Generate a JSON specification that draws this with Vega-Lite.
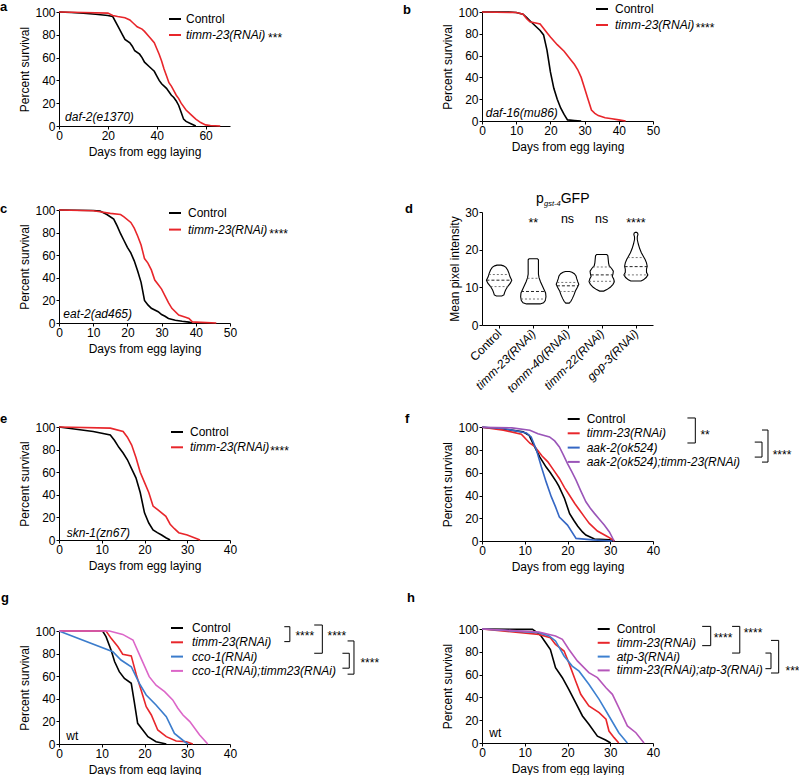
{
"$schema": "https://vega.github.io/schema/vega-lite/v6.json",
"autosize": {"type": "pad"},
"padding": {"left": 0, "top": 1, "right": 0, "bottom": 0},
"background": "white",
"columns": 2,
"spacing": {"row": 10, "column": 252},
"bounds": "flush",
"align": "each",
"resolve": {"scale": {"color": "independent"}, "legend": {"color": "independent"}},
"config": {
 "font": "Liberation Sans",
 "view": {"stroke": null},
 "axis": {"labelFontSize": 12, "titleFontSize": 12, "titleFontWeight": "normal", "labelColor": "#000", "titleColor": "#000", "domainColor": "#000", "tickColor": "#000", "tickSize": 3, "labelPadding": 1, "grid": false, "labelFlush": false, "labelOverlap": false, "domainWidth": 1, "tickWidth": 1},
 "axisX": {"titlePadding": 5},
 "axisY": {"titlePadding": 3},
 "legend": {"orient": "none", "labelFontSize": 12, "labelColor": "#000", "symbolType": "stroke", "symbolSize": 144, "symbolStrokeWidth": 2, "padding": 0, "rowPadding": 2, "labelOffset": 6, "labelLimit": 0},
 "title": {"fontSize": 13, "fontWeight": "bold", "anchor": "start", "frame": "group", "offset": 0, "color": "#000", "baseline": "alphabetic"},
 "text": {"color": "#000", "fontSize": 12}
},
"datasets": {
 "a_lines": [
  {"s":"Control","x":0,"y":100},{"s":"Control","x":5,"y":99.5},{"s":"Control","x":10,"y":99},{"s":"Control","x":15,"y":98},{"s":"Control","x":20,"y":97},{"s":"Control","x":22,"y":96},{"s":"Control","x":24,"y":88},{"s":"Control","x":26,"y":80},{"s":"Control","x":27,"y":76},{"s":"Control","x":29,"y":73},{"s":"Control","x":30,"y":70},{"s":"Control","x":31,"y":66},{"s":"Control","x":33,"y":63},{"s":"Control","x":34,"y":60},{"s":"Control","x":35,"y":56},{"s":"Control","x":37,"y":52},{"s":"Control","x":38,"y":50},{"s":"Control","x":39,"y":48},{"s":"Control","x":40,"y":44},{"s":"Control","x":41,"y":40},{"s":"Control","x":42,"y":37},{"s":"Control","x":44,"y":33},{"s":"Control","x":45,"y":30},{"s":"Control","x":46,"y":27},{"s":"Control","x":47,"y":25},{"s":"Control","x":48,"y":22},{"s":"Control","x":49,"y":18},{"s":"Control","x":50,"y":12},{"s":"Control","x":51,"y":6},{"s":"Control","x":52,"y":4},{"s":"Control","x":54,"y":2},{"s":"Control","x":56,"y":0},
  {"s":"timm-23(RNAi)","x":0,"y":100},{"s":"timm-23(RNAi)","x":10,"y":99.5},{"s":"timm-23(RNAi)","x":20,"y":99},{"s":"timm-23(RNAi)","x":22,"y":97},{"s":"timm-23(RNAi)","x":24,"y":96},{"s":"timm-23(RNAi)","x":27,"y":95},{"s":"timm-23(RNAi)","x":29,"y":93},{"s":"timm-23(RNAi)","x":30,"y":91},{"s":"timm-23(RNAi)","x":31,"y":89},{"s":"timm-23(RNAi)","x":32,"y":87},{"s":"timm-23(RNAi)","x":34,"y":85},{"s":"timm-23(RNAi)","x":35,"y":83},{"s":"timm-23(RNAi)","x":37,"y":78},{"s":"timm-23(RNAi)","x":39,"y":73},{"s":"timm-23(RNAi)","x":40,"y":68},{"s":"timm-23(RNAi)","x":41,"y":63},{"s":"timm-23(RNAi)","x":42,"y":57},{"s":"timm-23(RNAi)","x":43,"y":50},{"s":"timm-23(RNAi)","x":44,"y":44},{"s":"timm-23(RNAi)","x":45,"y":38},{"s":"timm-23(RNAi)","x":46,"y":35},{"s":"timm-23(RNAi)","x":47,"y":31},{"s":"timm-23(RNAi)","x":48,"y":27},{"s":"timm-23(RNAi)","x":49,"y":24},{"s":"timm-23(RNAi)","x":50,"y":20},{"s":"timm-23(RNAi)","x":52,"y":14},{"s":"timm-23(RNAi)","x":54,"y":10},{"s":"timm-23(RNAi)","x":56,"y":6},{"s":"timm-23(RNAi)","x":58,"y":3},{"s":"timm-23(RNAi)","x":60,"y":1},{"s":"timm-23(RNAi)","x":62,"y":0.5},{"s":"timm-23(RNAi)","x":66,"y":0}
 ],
 "a_geno": [{"t":"daf-2(e1370)","x":2.5,"y":4.6}],
 "a_stars": [{"t":"***","x":85.6,"y":74}],
 "b_lines": [
  {"s":"Control","x":0,"y":100},{"s":"Control","x":8,"y":100},{"s":"Control","x":10,"y":99.5},{"s":"Control","x":12,"y":98},{"s":"Control","x":13,"y":95},{"s":"Control","x":14,"y":92},{"s":"Control","x":16,"y":86},{"s":"Control","x":17,"y":83},{"s":"Control","x":18,"y":79},{"s":"Control","x":19,"y":65},{"s":"Control","x":20,"y":45},{"s":"Control","x":21,"y":30},{"s":"Control","x":22,"y":20},{"s":"Control","x":23,"y":12},{"s":"Control","x":24,"y":6},{"s":"Control","x":25,"y":1},{"s":"Control","x":27,"y":0.5},{"s":"Control","x":29,"y":0},
  {"s":"timm-23(RNAi)","x":0,"y":100},{"s":"timm-23(RNAi)","x":10,"y":99.5},{"s":"timm-23(RNAi)","x":12,"y":98},{"s":"timm-23(RNAi)","x":13,"y":94},{"s":"timm-23(RNAi)","x":14,"y":91},{"s":"timm-23(RNAi)","x":17,"y":89},{"s":"timm-23(RNAi)","x":19,"y":81},{"s":"timm-23(RNAi)","x":20,"y":77},{"s":"timm-23(RNAi)","x":22,"y":70},{"s":"timm-23(RNAi)","x":24,"y":64},{"s":"timm-23(RNAi)","x":26,"y":56},{"s":"timm-23(RNAi)","x":27,"y":52},{"s":"timm-23(RNAi)","x":28,"y":47},{"s":"timm-23(RNAi)","x":29,"y":40},{"s":"timm-23(RNAi)","x":30,"y":30},{"s":"timm-23(RNAi)","x":31,"y":20},{"s":"timm-23(RNAi)","x":32,"y":10},{"s":"timm-23(RNAi)","x":33,"y":7},{"s":"timm-23(RNAi)","x":34,"y":5},{"s":"timm-23(RNAi)","x":36,"y":3},{"s":"timm-23(RNAi)","x":38,"y":2},{"s":"timm-23(RNAi)","x":40,"y":1},{"s":"timm-23(RNAi)","x":42,"y":0}
 ],
 "b_geno": [{"t":"daf-16(mu86)","x":1.1,"y":4}],
 "b_stars": [{"t":"****","x":62.5,"y":81.7}],
 "c_lines": [
  {"s":"Control","x":0,"y":100},{"s":"Control","x":10,"y":99.5},{"s":"Control","x":12,"y":99},{"s":"Control","x":14,"y":96},{"s":"Control","x":16,"y":92},{"s":"Control","x":17,"y":86},{"s":"Control","x":18,"y":79},{"s":"Control","x":19,"y":73},{"s":"Control","x":20,"y":67},{"s":"Control","x":21,"y":62},{"s":"Control","x":22,"y":55},{"s":"Control","x":23,"y":46},{"s":"Control","x":24,"y":36},{"s":"Control","x":25,"y":20},{"s":"Control","x":26,"y":16},{"s":"Control","x":27,"y":13},{"s":"Control","x":29,"y":10},{"s":"Control","x":30,"y":7.5},{"s":"Control","x":31,"y":6},{"s":"Control","x":32,"y":4},{"s":"Control","x":34,"y":2.5},{"s":"Control","x":36,"y":1.5},{"s":"Control","x":38,"y":0.8},{"s":"Control","x":39,"y":0},
  {"s":"timm-23(RNAi)","x":0,"y":100},{"s":"timm-23(RNAi)","x":10,"y":99.3},{"s":"timm-23(RNAi)","x":12,"y":98.5},{"s":"timm-23(RNAi)","x":15,"y":97},{"s":"timm-23(RNAi)","x":18,"y":96},{"s":"timm-23(RNAi)","x":19,"y":94},{"s":"timm-23(RNAi)","x":21,"y":89},{"s":"timm-23(RNAi)","x":22,"y":84},{"s":"timm-23(RNAi)","x":23,"y":77},{"s":"timm-23(RNAi)","x":24,"y":69},{"s":"timm-23(RNAi)","x":25,"y":57},{"s":"timm-23(RNAi)","x":26,"y":53},{"s":"timm-23(RNAi)","x":27,"y":47},{"s":"timm-23(RNAi)","x":28,"y":38},{"s":"timm-23(RNAi)","x":29,"y":34},{"s":"timm-23(RNAi)","x":30,"y":30},{"s":"timm-23(RNAi)","x":31,"y":24},{"s":"timm-23(RNAi)","x":32,"y":18},{"s":"timm-23(RNAi)","x":33,"y":13},{"s":"timm-23(RNAi)","x":35,"y":7},{"s":"timm-23(RNAi)","x":37,"y":5},{"s":"timm-23(RNAi)","x":38,"y":4},{"s":"timm-23(RNAi)","x":39,"y":1},{"s":"timm-23(RNAi)","x":40,"y":0.8},{"s":"timm-23(RNAi)","x":46,"y":0}
 ],
 "c_geno": [{"t":"eat-2(ad465)","x":1.26,"y":4.2}],
 "c_stars": [{"t":"****","x":61.5,"y":75.5}],
 "d_violin": [
  {"g":1,"y":7.7,"x":0.92,"x2":1.08},{"g":1,"y":8.0,"x":0.86,"x2":1.14},{"g":1,"y":8.6,"x":0.84,"x2":1.16},{"g":1,"y":9.3,"x":0.81,"x2":1.19},{"g":1,"y":10.2,"x":0.75,"x2":1.25},{"g":1,"y":11.1,"x":0.67,"x2":1.33},{"g":1,"y":11.9,"x":0.63,"x2":1.37},{"g":1,"y":12.8,"x":0.68,"x2":1.32},{"g":1,"y":13.7,"x":0.71,"x2":1.29},{"g":1,"y":14.6,"x":0.75,"x2":1.25},{"g":1,"y":15.3,"x":0.8,"x2":1.2},{"g":1,"y":15.7,"x":0.87,"x2":1.13},{"g":1,"y":15.9,"x":0.94,"x2":1.06},
  {"g":2,"y":5.6,"x":1.8,"x2":2.2},{"g":2,"y":5.9,"x":1.7,"x2":2.3},{"g":2,"y":6.5,"x":1.65,"x2":2.35},{"g":2,"y":7.5,"x":1.63,"x2":2.37},{"g":2,"y":8.5,"x":1.64,"x2":2.36},{"g":2,"y":9.5,"x":1.69,"x2":2.31},{"g":2,"y":10.5,"x":1.74,"x2":2.26},{"g":2,"y":11.5,"x":1.79,"x2":2.21},{"g":2,"y":12.5,"x":1.83,"x2":2.17},{"g":2,"y":13.5,"x":1.85,"x2":2.15},{"g":2,"y":15,"x":1.85,"x2":2.15},{"g":2,"y":16.5,"x":1.85,"x2":2.15},{"g":2,"y":17.3,"x":1.85,"x2":2.15},{"g":2,"y":17.6,"x":1.88,"x2":2.12},
  {"g":3,"y":5.8,"x":2.95,"x2":3.05},{"g":3,"y":6.3,"x":2.9,"x2":3.1},{"g":3,"y":7.0,"x":2.86,"x2":3.14},{"g":3,"y":8.0,"x":2.81,"x2":3.19},{"g":3,"y":9.0,"x":2.77,"x2":3.23},{"g":3,"y":10.0,"x":2.71,"x2":3.29},{"g":3,"y":10.8,"x":2.67,"x2":3.33},{"g":3,"y":11.5,"x":2.7,"x2":3.3},{"g":3,"y":12.3,"x":2.73,"x2":3.27},{"g":3,"y":13.0,"x":2.75,"x2":3.25},{"g":3,"y":13.6,"x":2.8,"x2":3.2},{"g":3,"y":14.0,"x":2.87,"x2":3.13},{"g":3,"y":14.2,"x":2.94,"x2":3.06},
  {"g":4,"y":9.0,"x":3.94,"x2":4.06},{"g":4,"y":9.4,"x":3.85,"x2":4.15},{"g":4,"y":10.0,"x":3.75,"x2":4.25},{"g":4,"y":10.8,"x":3.67,"x2":4.33},{"g":4,"y":11.5,"x":3.63,"x2":4.37},{"g":4,"y":12.2,"x":3.65,"x2":4.35},{"g":4,"y":12.9,"x":3.69,"x2":4.31},{"g":4,"y":13.6,"x":3.67,"x2":4.33},{"g":4,"y":14.3,"x":3.66,"x2":4.34},{"g":4,"y":15.0,"x":3.71,"x2":4.29},{"g":4,"y":15.7,"x":3.78,"x2":4.22},{"g":4,"y":16.5,"x":3.8,"x2":4.2},{"g":4,"y":17.5,"x":3.81,"x2":4.19},{"g":4,"y":18.4,"x":3.82,"x2":4.18},{"g":4,"y":18.7,"x":3.85,"x2":4.15},
  {"g":5,"y":11.7,"x":4.85,"x2":5.15},{"g":5,"y":12.0,"x":4.78,"x2":5.22},{"g":5,"y":12.6,"x":4.7,"x2":5.3},{"g":5,"y":13.3,"x":4.65,"x2":5.35},{"g":5,"y":14.0,"x":4.69,"x2":5.31},{"g":5,"y":14.8,"x":4.69,"x2":5.31},{"g":5,"y":15.6,"x":4.67,"x2":5.33},{"g":5,"y":16.5,"x":4.69,"x2":5.31},{"g":5,"y":17.4,"x":4.73,"x2":5.27},{"g":5,"y":18.2,"x":4.78,"x2":5.22},{"g":5,"y":19.2,"x":4.84,"x2":5.16},{"g":5,"y":20.3,"x":4.89,"x2":5.11},{"g":5,"y":21.5,"x":4.93,"x2":5.07},{"g":5,"y":22.7,"x":4.96,"x2":5.04},{"g":5,"y":23.4,"x":4.96,"x2":5.04},{"g":5,"y":24.0,"x":4.94,"x2":5.06},{"g":5,"y":24.4,"x":4.95,"x2":5.05},{"g":5,"y":24.6,"x":4.98,"x2":5.02}
 ],
 "d_quart": [
  {"g":1,"k":"m","y":11.9,"x":0.63,"x2":1.37},{"g":1,"k":"q","y":13.4,"x":0.7,"x2":1.3},{"g":1,"k":"q","y":10.2,"x":0.75,"x2":1.25},
  {"g":2,"k":"m","y":8.9,"x":1.64,"x2":2.36},{"g":2,"k":"q","y":6.9,"x":1.64,"x2":2.36},{"g":2,"k":"q","y":12.4,"x":1.83,"x2":2.17},
  {"g":3,"k":"m","y":10.4,"x":2.69,"x2":3.31},{"g":3,"k":"q","y":8.9,"x":2.77,"x2":3.23},{"g":3,"k":"q","y":11.3,"x":2.7,"x2":3.3},
  {"g":4,"k":"m","y":13.3,"x":3.68,"x2":4.32},{"g":4,"k":"q","y":11.6,"x":3.63,"x2":4.37},{"g":4,"k":"q","y":15.4,"x":3.74,"x2":4.26},
  {"g":5,"k":"m","y":15.5,"x":4.67,"x2":5.33},{"g":5,"k":"q","y":13.3,"x":4.65,"x2":5.35},{"g":5,"k":"q","y":17.9,"x":4.76,"x2":5.24}
 ],
 "d_sig": [{"t":"**","x":2,"y":26},{"t":"ns","x":3,"y":27},{"t":"ns","x":4,"y":27},{"t":"****","x":5,"y":26}],
 "d_head": [{"t":"p","x":3,"y":32.5},{"t":"gst-4","x":3,"y":31.7},{"t":"GFP","x":3,"y":32.5}],
 "e_lines": [
  {"s":"Control","x":0,"y":100},{"s":"Control","x":4,"y":98},{"s":"Control","x":8,"y":96},{"s":"Control","x":12,"y":93},{"s":"Control","x":13,"y":88},{"s":"Control","x":14,"y":82},{"s":"Control","x":15,"y":77},{"s":"Control","x":16,"y":71},{"s":"Control","x":17,"y":63},{"s":"Control","x":18,"y":55},{"s":"Control","x":19,"y":42},{"s":"Control","x":20,"y":24},{"s":"Control","x":21,"y":15},{"s":"Control","x":22,"y":9},{"s":"Control","x":23,"y":6.5},{"s":"Control","x":24,"y":4.4},{"s":"Control","x":25,"y":2},{"s":"Control","x":26,"y":0},
  {"s":"timm-23(RNAi)","x":0,"y":100},{"s":"timm-23(RNAi)","x":12,"y":99},{"s":"timm-23(RNAi)","x":15,"y":96},{"s":"timm-23(RNAi)","x":16,"y":91},{"s":"timm-23(RNAi)","x":17,"y":84},{"s":"timm-23(RNAi)","x":18,"y":73},{"s":"timm-23(RNAi)","x":19,"y":60},{"s":"timm-23(RNAi)","x":20,"y":51},{"s":"timm-23(RNAi)","x":21,"y":42},{"s":"timm-23(RNAi)","x":22,"y":30},{"s":"timm-23(RNAi)","x":23,"y":27},{"s":"timm-23(RNAi)","x":25,"y":21},{"s":"timm-23(RNAi)","x":26,"y":14},{"s":"timm-23(RNAi)","x":27,"y":10},{"s":"timm-23(RNAi)","x":28,"y":6.5},{"s":"timm-23(RNAi)","x":30,"y":4.5},{"s":"timm-23(RNAi)","x":33,"y":0}
 ],
 "e_geno": [{"t":"skn-1(zn67)","x":1.8,"y":2.9}],
 "e_stars": [{"t":"****","x":49.4,"y":75}],
 "f_lines": [
  {"s":"Control","x":0,"y":100},{"s":"Control","x":5,"y":98.5},{"s":"Control","x":9.6,"y":96},{"s":"Control","x":11,"y":93},{"s":"Control","x":12.3,"y":83},{"s":"Control","x":13.5,"y":74},{"s":"Control","x":15,"y":65},{"s":"Control","x":16,"y":60},{"s":"Control","x":17.4,"y":52},{"s":"Control","x":18,"y":48},{"s":"Control","x":19.3,"y":37.4},{"s":"Control","x":20.5,"y":24},{"s":"Control","x":21.5,"y":18},{"s":"Control","x":22.4,"y":13},{"s":"Control","x":23.5,"y":8},{"s":"Control","x":24.3,"y":5.3},{"s":"Control","x":26.3,"y":1.8},{"s":"Control","x":29.8,"y":1},{"s":"Control","x":31,"y":0},
  {"s":"timm-23(RNAi)","x":0,"y":100},{"s":"timm-23(RNAi)","x":5,"y":97.5},{"s":"timm-23(RNAi)","x":9.2,"y":94},{"s":"timm-23(RNAi)","x":11.2,"y":86},{"s":"timm-23(RNAi)","x":12.3,"y":83.3},{"s":"timm-23(RNAi)","x":14,"y":75},{"s":"timm-23(RNAi)","x":15.4,"y":69.6},{"s":"timm-23(RNAi)","x":17,"y":61},{"s":"timm-23(RNAi)","x":18.1,"y":55},{"s":"timm-23(RNAi)","x":19.3,"y":47},{"s":"timm-23(RNAi)","x":20.5,"y":40},{"s":"timm-23(RNAi)","x":21.7,"y":33},{"s":"timm-23(RNAi)","x":22.8,"y":27.2},{"s":"timm-23(RNAi)","x":24,"y":21},{"s":"timm-23(RNAi)","x":25.1,"y":15.5},{"s":"timm-23(RNAi)","x":27,"y":8.8},{"s":"timm-23(RNAi)","x":29.4,"y":3.8},{"s":"timm-23(RNAi)","x":31,"y":0},
  {"s":"aak-2(ok524)","x":0,"y":100},{"s":"aak-2(ok524)","x":5,"y":99},{"s":"aak-2(ok524)","x":10.4,"y":95},{"s":"aak-2(ok524)","x":11.5,"y":91.5},{"s":"aak-2(ok524)","x":12.7,"y":80.4},{"s":"aak-2(ok524)","x":13.9,"y":65},{"s":"aak-2(ok524)","x":15,"y":52},{"s":"aak-2(ok524)","x":16.2,"y":39},{"s":"aak-2(ok524)","x":17.2,"y":30},{"s":"aak-2(ok524)","x":18.1,"y":21},{"s":"aak-2(ok524)","x":20,"y":14},{"s":"aak-2(ok524)","x":22,"y":2.3},{"s":"aak-2(ok524)","x":25.9,"y":1},{"s":"aak-2(ok524)","x":30.5,"y":0},
  {"s":"aak-2(ok524);timm-23(RNAi)","x":0,"y":100},{"s":"aak-2(ok524);timm-23(RNAi)","x":7,"y":99.5},{"s":"aak-2(ok524);timm-23(RNAi)","x":11.2,"y":97.4},{"s":"aak-2(ok524);timm-23(RNAi)","x":13.1,"y":94.4},{"s":"aak-2(ok524);timm-23(RNAi)","x":15.8,"y":91.5},{"s":"aak-2(ok524);timm-23(RNAi)","x":17,"y":88},{"s":"aak-2(ok524);timm-23(RNAi)","x":18.1,"y":82.7},{"s":"aak-2(ok524);timm-23(RNAi)","x":19,"y":76},{"s":"aak-2(ok524);timm-23(RNAi)","x":20,"y":68},{"s":"aak-2(ok524);timm-23(RNAi)","x":21,"y":61},{"s":"aak-2(ok524);timm-23(RNAi)","x":22,"y":53.5},{"s":"aak-2(ok524);timm-23(RNAi)","x":23,"y":45},{"s":"aak-2(ok524);timm-23(RNAi)","x":24.3,"y":34.5},{"s":"aak-2(ok524);timm-23(RNAi)","x":25.3,"y":29},{"s":"aak-2(ok524);timm-23(RNAi)","x":26.3,"y":24.3},{"s":"aak-2(ok524);timm-23(RNAi)","x":27.5,"y":19},{"s":"aak-2(ok524);timm-23(RNAi)","x":28.6,"y":14},{"s":"aak-2(ok524);timm-23(RNAi)","x":29.8,"y":8},{"s":"aak-2(ok524);timm-23(RNAi)","x":30.9,"y":0}
 ],
 "f_stars": [{"t":"**","x":51.1,"y":89.7},{"t":"****","x":68.0,"y":72.0}],
 "f_br": [
  {"x":48.05,"y":108.2,"x2":49.9,"y2":108.2},{"x":49.9,"y":108.2,"x2":49.9,"y2":86.2},{"x":48.05,"y":86.2,"x2":49.9,"y2":86.2},
  {"x":63.8,"y":87.0,"x2":65.5,"y2":87.0},{"x":65.5,"y":87.0,"x2":65.5,"y2":73.8},{"x":63.8,"y":73.8,"x2":65.5,"y2":73.8},
  {"x":65.5,"y":97.6,"x2":66.9,"y2":97.6},{"x":66.9,"y":97.6,"x2":66.9,"y2":69.4},{"x":65.5,"y":69.4,"x2":66.9,"y2":69.4}
 ],
 "g_lines": [
  {"s":"Control","x":0,"y":100},{"s":"Control","x":10.2,"y":100},{"s":"Control","x":11,"y":95},{"s":"Control","x":12.2,"y":83},{"s":"Control","x":13,"y":73},{"s":"Control","x":14.1,"y":64},{"s":"Control","x":15.3,"y":58},{"s":"Control","x":16.9,"y":53.7},{"s":"Control","x":17.6,"y":37.5},{"s":"Control","x":18.4,"y":18.3},{"s":"Control","x":19.6,"y":12.4},{"s":"Control","x":20.8,"y":6.5},{"s":"Control","x":22.7,"y":2},{"s":"Control","x":25.1,"y":0},
  {"s":"timm-23(RNAi)","x":0,"y":100},{"s":"timm-23(RNAi)","x":11,"y":100},{"s":"timm-23(RNAi)","x":12.2,"y":93.5},{"s":"timm-23(RNAi)","x":13.8,"y":86},{"s":"timm-23(RNAi)","x":14.9,"y":79.4},{"s":"timm-23(RNAi)","x":16.9,"y":78},{"s":"timm-23(RNAi)","x":18.1,"y":61},{"s":"timm-23(RNAi)","x":19.2,"y":47.8},{"s":"timm-23(RNAi)","x":20.4,"y":33},{"s":"timm-23(RNAi)","x":21.6,"y":25.7},{"s":"timm-23(RNAi)","x":23.1,"y":12.4},{"s":"timm-23(RNAi)","x":25.1,"y":6.5},{"s":"timm-23(RNAi)","x":27.4,"y":2.6},{"s":"timm-23(RNAi)","x":29.8,"y":2},{"s":"timm-23(RNAi)","x":31.3,"y":0},
  {"s":"cco-1(RNAi)","x":0,"y":100},{"s":"cco-1(RNAi)","x":12.6,"y":81.7},{"s":"cco-1(RNAi)","x":14.5,"y":74.3},{"s":"cco-1(RNAi)","x":16.9,"y":68.4},{"s":"cco-1(RNAi)","x":18.8,"y":53.7},{"s":"cco-1(RNAi)","x":20.4,"y":43.4},{"s":"cco-1(RNAi)","x":22.7,"y":34.5},{"s":"cco-1(RNAi)","x":25.1,"y":24.2},{"s":"cco-1(RNAi)","x":27,"y":9.4},{"s":"cco-1(RNAi)","x":29.4,"y":2},{"s":"cco-1(RNAi)","x":30.2,"y":0},
  {"s":"cco-1(RNAi);timm23(RNAi)","x":0,"y":100},{"s":"cco-1(RNAi);timm23(RNAi)","x":11.8,"y":100},{"s":"cco-1(RNAi);timm23(RNAi)","x":14.9,"y":97},{"s":"cco-1(RNAi);timm23(RNAi)","x":17.3,"y":92},{"s":"cco-1(RNAi);timm23(RNAi)","x":19.2,"y":75.8},{"s":"cco-1(RNAi);timm23(RNAi)","x":21.1,"y":59.6},{"s":"cco-1(RNAi);timm23(RNAi)","x":22.7,"y":52},{"s":"cco-1(RNAi);timm23(RNAi)","x":24.7,"y":46.3},{"s":"cco-1(RNAi);timm23(RNAi)","x":26.6,"y":39},{"s":"cco-1(RNAi);timm23(RNAi)","x":27.8,"y":31.6},{"s":"cco-1(RNAi);timm23(RNAi)","x":29,"y":25.7},{"s":"cco-1(RNAi);timm23(RNAi)","x":30.6,"y":19.8},{"s":"cco-1(RNAi);timm23(RNAi)","x":32.9,"y":8},{"s":"cco-1(RNAi);timm23(RNAi)","x":34.8,"y":0}
 ],
 "g_geno": [{"t":"wt","x":1.7,"y":3.8}],
 "g_stars": [{"t":"****","x":55.3,"y":91.8},{"t":"****","x":62.8,"y":92.0},{"t":"****","x":70.5,"y":68.2}],
 "g_br": [
  {"x":52.7,"y":103.8,"x2":54.0,"y2":103.8},{"x":54.0,"y":103.8,"x2":54.0,"y2":90.6},{"x":52.7,"y":90.6,"x2":54.0,"y2":90.6},
  {"x":59.7,"y":105.3,"x2":61.6,"y2":105.3},{"x":61.6,"y":105.3,"x2":61.6,"y2":80.3},{"x":59.7,"y":80.3,"x2":61.6,"y2":80.3},
  {"x":66.3,"y":80.3,"x2":67.9,"y2":80.3},{"x":67.9,"y":80.3,"x2":67.9,"y2":67.1},{"x":66.3,"y":67.1,"x2":67.9,"y2":67.1},
  {"x":67.5,"y":91.2,"x2":69.0,"y2":91.2},{"x":69.0,"y":91.2,"x2":69.0,"y2":61.8},{"x":67.5,"y":61.8,"x2":69.0,"y2":61.8}
 ],
 "h_lines": [
  {"s":"Control","x":0,"y":100},{"s":"Control","x":11.8,"y":99.7},{"s":"Control","x":12.5,"y":98},{"s":"Control","x":13.7,"y":94.4},{"s":"Control","x":14.9,"y":88},{"s":"Control","x":16,"y":82},{"s":"Control","x":17.2,"y":66},{"s":"Control","x":18.8,"y":57.3},{"s":"Control","x":20.3,"y":47},{"s":"Control","x":21.9,"y":35.4},{"s":"Control","x":23.5,"y":23.7},{"s":"Control","x":25,"y":16.4},{"s":"Control","x":27,"y":6},{"s":"Control","x":28.9,"y":2.6},{"s":"Control","x":30.1,"y":0},
  {"s":"timm-23(RNAi)","x":0,"y":100},{"s":"timm-23(RNAi)","x":13.3,"y":95.3},{"s":"timm-23(RNAi)","x":16,"y":92.4},{"s":"timm-23(RNAi)","x":17.2,"y":86.5},{"s":"timm-23(RNAi)","x":19.2,"y":80.7},{"s":"timm-23(RNAi)","x":20.3,"y":70.5},{"s":"timm-23(RNAi)","x":21.9,"y":54.4},{"s":"timm-23(RNAi)","x":23.1,"y":42.7},{"s":"timm-23(RNAi)","x":25,"y":32.5},{"s":"timm-23(RNAi)","x":27.4,"y":26.6},{"s":"timm-23(RNAi)","x":29,"y":20.8},{"s":"timm-23(RNAi)","x":29.7,"y":10.5},{"s":"timm-23(RNAi)","x":30.9,"y":4.7},{"s":"timm-23(RNAi)","x":32,"y":0},
  {"s":"atp-3(RNAi)","x":0,"y":100},{"s":"atp-3(RNAi)","x":13.3,"y":96.8},{"s":"atp-3(RNAi)","x":15.7,"y":93.9},{"s":"atp-3(RNAi)","x":17.2,"y":89.5},{"s":"atp-3(RNAi)","x":19.2,"y":76.3},{"s":"atp-3(RNAi)","x":21.1,"y":67.5},{"s":"atp-3(RNAi)","x":22.7,"y":63},{"s":"atp-3(RNAi)","x":25,"y":51.5},{"s":"atp-3(RNAi)","x":27.4,"y":38.3},{"s":"atp-3(RNAi)","x":29.7,"y":23.7},{"s":"atp-3(RNAi)","x":32,"y":9},{"s":"atp-3(RNAi)","x":34,"y":0},
  {"s":"timm-23(RNAi);atp-3(RNAi)","x":0,"y":100},{"s":"timm-23(RNAi);atp-3(RNAi)","x":13.3,"y":97.4},{"s":"timm-23(RNAi);atp-3(RNAi)","x":17.2,"y":93.9},{"s":"timm-23(RNAi);atp-3(RNAi)","x":18.8,"y":91},{"s":"timm-23(RNAi);atp-3(RNAi)","x":20.3,"y":82.2},{"s":"timm-23(RNAi);atp-3(RNAi)","x":22.3,"y":72},{"s":"timm-23(RNAi);atp-3(RNAi)","x":25,"y":61.7},{"s":"timm-23(RNAi);atp-3(RNAi)","x":27,"y":57.3},{"s":"timm-23(RNAi);atp-3(RNAi)","x":29,"y":48.5},{"s":"timm-23(RNAi);atp-3(RNAi)","x":30.5,"y":42.7},{"s":"timm-23(RNAi);atp-3(RNAi)","x":32,"y":31},{"s":"timm-23(RNAi);atp-3(RNAi)","x":34,"y":15},{"s":"timm-23(RNAi);atp-3(RNAi)","x":36,"y":9},{"s":"timm-23(RNAi);atp-3(RNAi)","x":37.9,"y":0}
 ],
 "h_geno": [{"t":"wt","x":1.7,"y":4.9}],
 "h_stars": [{"t":"****","x":54.2,"y":88.9},{"t":"****","x":61.2,"y":92.6},{"t":"***","x":71.0,"y":59.6}],
 "h_br": [
  {"x":51.5,"y":102.3,"x2":53.5,"y2":102.3},{"x":53.5,"y":102.3,"x2":53.5,"y2":85.4},{"x":51.5,"y":85.4,"x2":53.5,"y2":85.4},
  {"x":58.5,"y":102.3,"x2":60.3,"y2":102.3},{"x":60.3,"y":102.3,"x2":60.3,"y2":78.9},{"x":58.5,"y":78.9,"x2":60.3,"y2":78.9},
  {"x":66.3,"y":78.9,"x2":67.6,"y2":78.9},{"x":67.6,"y":78.9,"x2":67.6,"y2":65.2},{"x":66.3,"y":65.2,"x2":67.6,"y2":65.2},
  {"x":67.6,"y":90,"x2":69.4,"y2":90},{"x":69.4,"y":90,"x2":69.4,"y2":61.4},{"x":67.6,"y":61.4,"x2":69.4,"y2":61.4}
 ]
},
"concat": [
 {
  "width": 171, "height": 114,
  "title": {"text": "a", "dx": -59, "dy": 12},
  "encoding": {
   "x": {"field": "x", "type": "quantitative", "scale": {"domain": [0, 70], "nice": false}, "axis": {"values": [0, 20, 40, 60], "title": "Days from egg laying"}},
   "y": {"field": "y", "type": "quantitative", "scale": {"domain": [0, 100], "nice": false, "range": [114, 0]}, "axis": {"values": [0, 20, 40, 60, 80, 100], "title": "Percent survival"}}
  },
  "layer": [
   {"data": {"name": "a_lines"}, "mark": {"type": "line", "strokeWidth": 1.6}, "encoding": {"color": {"field": "s", "type": "nominal", "scale": {"domain": ["Control", "timm-23(RNAi)"], "range": ["#000000", "#e8262b"]}, "legend": {"title": null, "legendX": 109, "legendY": 0, "labelOffset": 4, "rowPadding": 3, "encode": {"labels": {"update": {"fontStyle": {"signal": "datum.value === 'Control' ? 'normal' : 'italic'"}}}}}}}},
   {"data": {"name": "a_geno"}, "mark": {"type": "text", "align": "left", "baseline": "alphabetic", "fontStyle": "italic", "fontSize": 12}, "encoding": {"text": {"field": "t"}}},
   {"data": {"name": "a_stars"}, "mark": {"type": "text", "align": "left", "baseline": "alphabetic", "fontSize": 12}, "encoding": {"text": {"field": "t"}}}
  ]
 },
 {
  "width": 171, "height": 109,
  "title": {"text": "b", "dx": -79, "dy": 18.7},
  "encoding": {
   "x": {"field": "x", "type": "quantitative", "scale": {"domain": [0, 50], "nice": false}, "axis": {"values": [0, 10, 20, 30, 40, 50], "title": "Days from egg laying"}},
   "y": {"field": "y", "type": "quantitative", "scale": {"domain": [0, 100], "nice": false, "range": [109, 0]}, "axis": {"values": [0, 20, 40, 60, 80, 100], "title": "Percent survival"}}
  },
  "layer": [
   {"data": {"name": "b_lines"}, "mark": {"type": "line", "strokeWidth": 1.6}, "encoding": {"color": {"field": "s", "type": "nominal", "scale": {"domain": ["Control", "timm-23(RNAi)"], "range": ["#000000", "#e8262b"]}, "legend": {"title": null, "legendX": 113, "legendY": -10, "rowPadding": 3, "encode": {"labels": {"update": {"fontStyle": {"signal": "datum.value === 'Control' ? 'normal' : 'italic'"}}}}}}}},
   {"data": {"name": "b_geno"}, "mark": {"type": "text", "align": "left", "baseline": "alphabetic", "fontStyle": "italic", "fontSize": 12}, "encoding": {"text": {"field": "t"}}},
   {"data": {"name": "b_stars"}, "mark": {"type": "text", "align": "left", "baseline": "alphabetic", "fontSize": 12}, "encoding": {"text": {"field": "t"}}}
  ]
 },
 {
  "width": 171, "height": 187,
  "title": {"text": "c", "dx": -59, "dy": 83.7},
  "encoding": {
   "x": {"field": "x", "type": "quantitative", "scale": {"domain": [0, 50], "nice": false}, "axis": {"values": [0, 10, 20, 30, 40, 50], "title": "Days from egg laying"}},
   "y": {"field": "y", "type": "quantitative", "scale": {"domain": [0, 100], "nice": false, "range": [187, 74]}, "axis": {"values": [0, 20, 40, 60, 80, 100], "title": "Percent survival"}}
  },
  "layer": [
   {"data": {"name": "c_lines"}, "mark": {"type": "line", "strokeWidth": 1.6}, "encoding": {"color": {"field": "s", "type": "nominal", "scale": {"domain": ["Control", "timm-23(RNAi)"], "range": ["#000000", "#e8262b"]}, "legend": {"title": null, "legendX": 109, "legendY": 70, "rowPadding": 3.6, "encode": {"labels": {"update": {"fontStyle": {"signal": "datum.value === 'Control' ? 'normal' : 'italic'"}}}}}}}},
   {"data": {"name": "c_geno"}, "mark": {"type": "text", "align": "left", "baseline": "alphabetic", "fontStyle": "italic", "fontSize": 12}, "encoding": {"text": {"field": "t"}}},
   {"data": {"name": "c_stars"}, "mark": {"type": "text", "align": "left", "baseline": "alphabetic", "fontSize": 12}, "encoding": {"text": {"field": "t"}}}
  ]
 },
 {
  "width": 171, "height": 189,
  "title": {"text": "d", "dx": -77, "dy": 83.7},
  "encoding": {
   "x": {"field": "x", "type": "quantitative", "scale": {"domain": [0.5, 5.5], "nice": false, "zero": false}, "axis": {"values": [1, 2, 3, 4, 5], "title": null, "labelAngle": -45, "labelAlign": "right", "labelBaseline": "middle", "labelPadding": 3, "labelExpr": "['Control','timm-23(RNAi)','tomm-40(RNAi)','timm-22(RNAi)','gop-3(RNAi)'][datum.value - 1]", "labelFontStyle": {"condition": {"test": "datum.value === 1", "value": "normal"}, "value": "italic"}}},
   "y": {"field": "y", "type": "quantitative", "scale": {"domain": [0, 30], "nice": false, "range": [189, 76]}, "axis": {"values": [0, 10, 20, 30], "title": "Mean pixel intensity"}}
  },
  "layer": [
   {"data": {"name": "d_violin"}, "mark": {"type": "area", "orient": "horizontal", "fill": "#ffffff", "stroke": "#000000", "strokeWidth": 1.1}, "encoding": {"x2": {"field": "x2"}, "detail": {"field": "g"}}},
   {"data": {"name": "d_quart"}, "transform": [{"filter": "datum.k === 'q'"}], "mark": {"type": "rule", "color": "#666666", "strokeDash": [2, 2], "strokeWidth": 0.9}, "encoding": {"x2": {"field": "x2"}}},
   {"data": {"name": "d_quart"}, "transform": [{"filter": "datum.k === 'm'"}], "mark": {"type": "rule", "color": "#222222", "strokeDash": [3, 2], "strokeWidth": 1}, "encoding": {"x2": {"field": "x2"}}},
   {"data": {"name": "d_sig"}, "mark": {"type": "text", "align": "center", "baseline": "alphabetic", "fontSize": 12.5}, "encoding": {"text": {"field": "t"}}},
   {"data": {"name": "d_head"}, "transform": [{"filter": "datum.t === 'p'"}], "mark": {"type": "text", "align": "left", "baseline": "alphabetic", "fontSize": 14, "dx": -31.5}, "encoding": {"text": {"field": "t"}}},
   {"data": {"name": "d_head"}, "transform": [{"filter": "datum.t === 'gst-4'"}], "mark": {"type": "text", "align": "left", "baseline": "alphabetic", "fontSize": 7.5, "fontStyle": "italic", "dx": -23.5}, "encoding": {"text": {"field": "t"}}},
   {"data": {"name": "d_head"}, "transform": [{"filter": "datum.t === 'GFP'"}], "mark": {"type": "text", "align": "left", "baseline": "alphabetic", "fontSize": 14, "dx": -6.8}, "encoding": {"text": {"field": "t"}}}
  ]
 },
 {
  "width": 171, "height": 205,
  "title": {"text": "e", "dx": -59, "dy": 94.7},
  "encoding": {
   "x": {"field": "x", "type": "quantitative", "scale": {"domain": [0, 40], "nice": false}, "axis": {"values": [0, 10, 20, 30, 40], "title": "Days from egg laying"}},
   "y": {"field": "y", "type": "quantitative", "scale": {"domain": [0, 100], "nice": false, "range": [205, 92]}, "axis": {"values": [0, 20, 40, 60, 80, 100], "title": "Percent survival"}}
  },
  "layer": [
   {"data": {"name": "e_lines"}, "mark": {"type": "line", "strokeWidth": 1.6}, "encoding": {"color": {"field": "s", "type": "nominal", "scale": {"domain": ["Control", "timm-23(RNAi)"], "range": ["#000000", "#e8262b"]}, "legend": {"title": null, "legendX": 111, "legendY": 90, "rowPadding": 2.3, "encode": {"labels": {"update": {"fontStyle": {"signal": "datum.value === 'Control' ? 'normal' : 'italic'"}}}}}}}},
   {"data": {"name": "e_geno"}, "mark": {"type": "text", "align": "left", "baseline": "alphabetic", "fontStyle": "italic", "fontSize": 12}, "encoding": {"text": {"field": "t"}}},
   {"data": {"name": "e_stars"}, "mark": {"type": "text", "align": "left", "baseline": "alphabetic", "fontSize": 12}, "encoding": {"text": {"field": "t"}}}
  ]
 },
 {
  "width": 171, "height": 206,
  "title": {"text": "f", "dx": -77, "dy": 94.7},
  "encoding": {
   "x": {"field": "x", "type": "quantitative", "scale": {"domain": [0, 40], "nice": false}, "axis": {"values": [0, 10, 20, 30, 40], "title": "Days from egg laying"}},
   "y": {"field": "y", "type": "quantitative", "scale": {"domain": [0, 100], "nice": false, "range": [206, 92.3]}, "axis": {"values": [0, 20, 40, 60, 80, 100], "title": "Percent survival"}}
  },
  "layer": [
   {"data": {"name": "f_lines"}, "mark": {"type": "line", "strokeWidth": 1.6}, "encoding": {"color": {"field": "s", "type": "nominal", "scale": {"domain": ["Control", "timm-23(RNAi)", "aak-2(ok524)", "aak-2(ok524);timm-23(RNAi)"], "range": ["#000000", "#e8262b", "#3567c4", "#9a55b8"]}, "legend": {"title": null, "legendX": 84.7, "legendY": 77, "rowPadding": 1.3, "encode": {"labels": {"update": {"fontStyle": {"signal": "datum.value === 'Control' ? 'normal' : 'italic'"}}}}}}}},
   {"data": {"name": "f_br"}, "mark": {"type": "rule", "color": "#000000", "strokeWidth": 1}, "encoding": {"x2": {"field": "x2"}, "y2": {"field": "y2"}}},
   {"data": {"name": "f_stars"}, "mark": {"type": "text", "align": "left", "baseline": "alphabetic", "fontSize": 12}, "encoding": {"text": {"field": "t"}}}
  ]
 },
 {
  "width": 171, "height": 193,
  "title": {"text": "g", "dx": -58, "dy": 58.3},
  "encoding": {
   "x": {"field": "x", "type": "quantitative", "scale": {"domain": [0, 40], "nice": false}, "axis": {"values": [0, 10, 20, 30, 40], "title": "Days from egg laying"}},
   "y": {"field": "y", "type": "quantitative", "scale": {"domain": [0, 100], "nice": false, "range": [193, 80]}, "axis": {"values": [0, 20, 40, 60, 80, 100], "title": "Percent survival"}}
  },
  "layer": [
   {"data": {"name": "g_lines"}, "mark": {"type": "line", "strokeWidth": 1.6}, "encoding": {"color": {"field": "s", "type": "nominal", "scale": {"domain": ["Control", "timm-23(RNAi)", "cco-1(RNAi)", "cco-1(RNAi);timm23(RNAi)"], "range": ["#000000", "#e8262b", "#3b7ccc", "#dc66c8"]}, "legend": {"title": null, "legendX": 111, "legendY": 70, "rowPadding": 1.3, "labelOffset": 8, "encode": {"labels": {"update": {"fontStyle": {"signal": "datum.value === 'Control' ? 'normal' : 'italic'"}}}}}}}},
   {"data": {"name": "g_br"}, "mark": {"type": "rule", "color": "#000000", "strokeWidth": 1}, "encoding": {"x2": {"field": "x2"}, "y2": {"field": "y2"}}},
   {"data": {"name": "g_geno"}, "mark": {"type": "text", "align": "left", "baseline": "alphabetic", "fontSize": 12}, "encoding": {"text": {"field": "t"}}},
   {"data": {"name": "g_stars"}, "mark": {"type": "text", "align": "left", "baseline": "alphabetic", "fontSize": 12}, "encoding": {"text": {"field": "t"}}}
  ]
 },
 {
  "width": 171, "height": 192,
  "title": {"text": "h", "dx": -75, "dy": 57.7},
  "encoding": {
   "x": {"field": "x", "type": "quantitative", "scale": {"domain": [0, 40], "nice": false}, "axis": {"values": [0, 10, 20, 30, 40], "title": "Days from egg laying"}},
   "y": {"field": "y", "type": "quantitative", "scale": {"domain": [0, 100], "nice": false, "range": [192, 78]}, "axis": {"values": [0, 20, 40, 60, 80, 100], "title": "Percent survival"}}
  },
  "layer": [
   {"data": {"name": "h_lines"}, "mark": {"type": "line", "strokeWidth": 1.6}, "encoding": {"color": {"field": "s", "type": "nominal", "scale": {"domain": ["Control", "timm-23(RNAi)", "atp-3(RNAi)", "timm-23(RNAi);atp-3(RNAi)"], "range": ["#000000", "#e8262b", "#3d80d0", "#b556ba"]}, "legend": {"title": null, "legendX": 114.7, "legendY": 71, "rowPadding": 0.8, "encode": {"labels": {"update": {"fontStyle": {"signal": "datum.value === 'Control' ? 'normal' : 'italic'"}}}}}}}},
   {"data": {"name": "h_br"}, "mark": {"type": "rule", "color": "#000000", "strokeWidth": 1}, "encoding": {"x2": {"field": "x2"}, "y2": {"field": "y2"}}},
   {"data": {"name": "h_geno"}, "mark": {"type": "text", "align": "left", "baseline": "alphabetic", "fontSize": 12}, "encoding": {"text": {"field": "t"}}},
   {"data": {"name": "h_stars"}, "mark": {"type": "text", "align": "left", "baseline": "alphabetic", "fontSize": 12}, "encoding": {"text": {"field": "t"}}}
  ]
 }
]
}
